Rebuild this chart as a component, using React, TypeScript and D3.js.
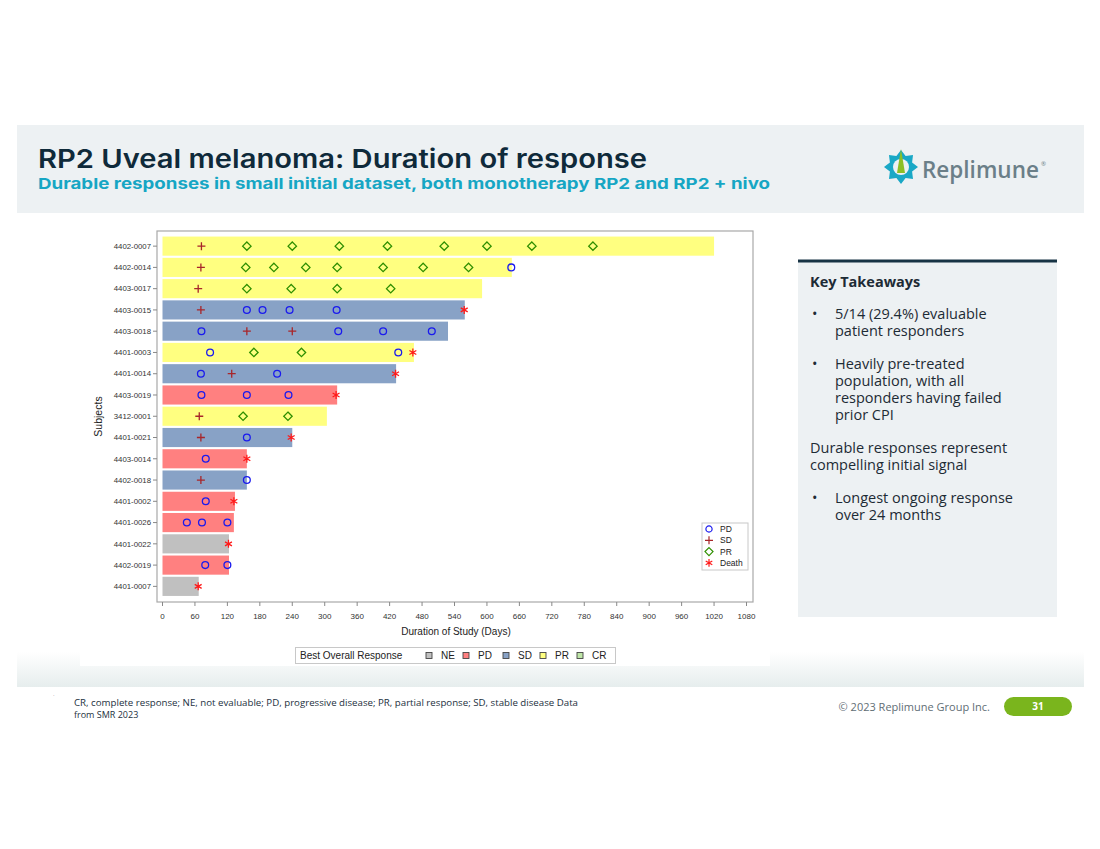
import { useEffect, useRef } from "react";
import * as d3 from "d3";

const subjects = [
  "4402-0007", "4402-0014", "4403-0017", "4403-0015", "4403-0018", "4401-0003",
  "4401-0014", "4403-0019", "3412-0001", "4401-0021", "4403-0014", "4402-0018",
  "4401-0002", "4401-0026", "4401-0022", "4402-0019", "4401-0007",
];
const durations = [1020, 646, 591, 559, 528, 465, 432, 323, 304, 240, 156, 156, 134, 132, 123, 123, 67];
const bestResponse = ["PR", "PR", "PR", "SD", "SD", "PR", "SD", "PD", "PR", "SD", "PD", "SD", "PD", "PD", "NE", "PD", "NE"];

// assessment days per subject
const pdDays = [
  [], [645], [], [156, 185, 235, 322], [72, 325, 408, 498], [88, 436], [71, 212], [72, 156, 233],
  [], [156], [80], [156], [80], [45, 73, 120], [], [79, 120], [],
];
const sdDays = [
  [72], [71], [66], [71], [156, 240], [], [128], [], [68], [71], [], [71], [], [], [], [], [],
];
const prDays = [
  [156, 240, 327, 416, 521, 600, 683, 796], [154, 206, 265, 323, 408, 482, 566], [156, 238, 323, 422],
  [], [], [169, 257], [], [], [149, 232], [], [], [], [], [], [], [], [],
];
const deathDays = [
  [], [], [], [558], [], [463], [431], [321], [], [238], [156], [], [132], [], [122], [], [66],
];

const responseKeys = ["NE", "PD", "SD", "PR", "CR"];
const responseColors = ["#c0c0c0", "#ff8080", "#88a2c6", "#ffff80", "#bfe6a8"];
const xTicks = d3.range(0, 1081, 60);

const takeaways = [
  { bullet: true, lines: ["5/14 (29.4%) evaluable", "patient responders"] },
  { bullet: true, lines: ["Heavily pre-treated", "population, with all", "responders having failed", "prior CPI"] },
  { bullet: false, lines: ["Durable responses represent", "compelling initial signal"] },
  { bullet: true, lines: ["Longest ongoing response", "over 24 months"] },
];

const PD_COLOR = "#1a1aee";
const SD_COLOR = "#a8262a";
const PR_COLOR = "#2f8f00";
const DEATH_COLOR = "#ff1a1a";
const CHART_FONT = "Liberation Sans, Arial, sans-serif";
const SLIDE_FONT = "Open Sans, sans-serif";

const starPath = (s: number) => {
  const a = s * Math.cos(Math.PI / 6);
  const b = s * Math.sin(Math.PI / 6);
  return `M0,${-s}L0,${s}M${-a},${-b}L${a},${b}M${-a},${b}L${a},${-b}`;
};

export default function App() {
  const ref = useRef<SVGSVGElement>(null);

  useEffect(() => {
    document.body.style.margin = "0";
    const svg = d3.select(ref.current);
    svg.html("");

    // slide background pieces
    svg.append("rect").attr("width", 1100).attr("height", 849).attr("fill", "#fff");
    svg.append("rect").attr("x", 17).attr("y", 125).attr("width", 1067).attr("height", 88).attr("fill", "#edf1f3");

    const defs = svg.append("defs");
    const grad = defs.append("linearGradient").attr("id", "band").attr("x1", 0).attr("y1", 0).attr("x2", 0).attr("y2", 1);
    grad.append("stop").attr("offset", "0%").attr("stop-color", "#ffffff");
    grad.append("stop").attr("offset", "100%").attr("stop-color", "#e6eded");
    svg.append("rect").attr("x", 17).attr("y", 652).attr("width", 1067).attr("height", 35).attr("fill", "url(#band)");
    svg.append("rect").attr("x", 80).attr("y", 225).attr("width", 690).attr("height", 441).attr("fill", "#fff");

    // title
    svg.append("text").attr("x", 38).attr("y", 168).attr("font-family", "Inter, sans-serif").attr("font-weight", 600)
      .attr("font-size", 26).attr("fill", "#0f2a3a").attr("textLength", 609).attr("lengthAdjust", "spacingAndGlyphs")
      .text("RP2 Uveal melanoma: Duration of response");
    svg.append("text").attr("x", 38).attr("y", 189).attr("font-family", "Inter, sans-serif").attr("font-weight", 700)
      .attr("font-size", 15).attr("fill", "#16a6c4").attr("textLength", 732).attr("lengthAdjust", "spacingAndGlyphs")
      .text("Durable responses in small initial dataset, both monotherapy RP2 and RP2 + nivo");

    // logo
    const logo = svg.append("g").attr("transform", "translate(901,167)");
    const gear = d3.range(16).map((i) => {
      const r = i % 2 === 0 ? 17 : 12;
      const ang = (i * Math.PI) / 8 - Math.PI / 2;
      return [r * Math.cos(ang), r * Math.sin(ang)] as [number, number];
    });
    logo.append("path").attr("d", d3.line()(gear) + "Z").attr("fill", "#19a8c6");
    logo.append("circle").attr("r", 8).attr("fill", "#edf1f3");
    logo.append("path").attr("d", "M0,-18L4,6L-4,6Z").attr("fill", "#8cbf26");
    const brand = svg.append("text").attr("x", 922).attr("y", 178).attr("font-family", SLIDE_FONT)
      .attr("font-weight", 600).attr("font-size", 22.5).attr("fill", "#6b7f88");
    brand.append("tspan").text("Replimune");
    brand.append("tspan").attr("font-size", 6).attr("font-weight", 400).attr("dx", 2).attr("dy", -12).text("®");

    // chart
    const x = d3.scaleLinear().domain([0, 1080]).range([162.5, 746.5]);
    const y = d3.scaleBand().domain(subjects).range([235.5, 597]).paddingInner(0.1).paddingOuter(0.05);
    const color = d3.scaleOrdinal<string, string>().domain(responseKeys).range(responseColors);
    const frame = { left: 157, right: 753, top: 231, bottom: 602 };

    svg.append("rect").attr("x", frame.left).attr("y", frame.top).attr("width", frame.right - frame.left)
      .attr("height", frame.bottom - frame.top).attr("fill", "none").attr("stroke", "#a8a8a8").attr("stroke-width", 1.2);

    const bars = svg.append("g");
    bars.selectAll("rect").data(subjects).join("rect")
      .attr("x", x(0))
      .attr("y", (d) => y(d)!)
      .attr("width", (_, i) => x(durations[i]) - x(0))
      .attr("height", y.bandwidth())
      .attr("fill", (_, i) => color(bestResponse[i]));

    // y axis
    const yAxis = svg.append("g").attr("font-family", CHART_FONT).attr("font-size", 7.8).attr("fill", "#333");
    subjects.forEach((s) => {
      const cy = y(s)! + y.bandwidth() / 2;
      yAxis.append("line").attr("x1", frame.left - 4).attr("x2", frame.left).attr("y1", cy).attr("y2", cy).attr("stroke", "#888");
      yAxis.append("text").attr("x", frame.left - 6).attr("y", cy).attr("dy", "0.35em").attr("text-anchor", "end").text(s);
    });
    svg.append("text").attr("transform", `translate(102,${(frame.top + frame.bottom) / 2}) rotate(-90)`)
      .attr("text-anchor", "middle").attr("font-family", CHART_FONT).attr("font-size", 10.5).attr("fill", "#222").text("Subjects");

    // x axis
    const xAxis = svg.append("g").attr("font-family", CHART_FONT).attr("font-size", 8).attr("fill", "#333");
    xTicks.forEach((t) => {
      xAxis.append("line").attr("x1", x(t)).attr("x2", x(t)).attr("y1", frame.bottom).attr("y2", frame.bottom + 4).attr("stroke", "#888");
      xAxis.append("text").attr("x", x(t)).attr("y", 619).attr("text-anchor", "middle").text(t);
    });
    svg.append("text").attr("x", 456).attr("y", 635).attr("text-anchor", "middle").attr("font-family", CHART_FONT)
      .attr("font-size", 10).attr("fill", "#222").text("Duration of Study (Days)");

    // markers
    const marks = svg.append("g").attr("fill", "none").attr("stroke-width", 1.3);
    subjects.forEach((s, i) => {
      const cy = y(s)! + y.bandwidth() / 2;
      pdDays[i].forEach((d) => marks.append("circle").attr("cx", x(d)).attr("cy", cy).attr("r", 3.4).attr("stroke", PD_COLOR));
      sdDays[i].forEach((d) => marks.append("path").attr("transform", `translate(${x(d)},${cy})`).attr("d", "M-4,0H4M0,-4V4").attr("stroke", SD_COLOR));
      prDays[i].forEach((d) => marks.append("path").attr("transform", `translate(${x(d)},${cy})`).attr("d", "M0,-4.2L4.2,0L0,4.2L-4.2,0Z").attr("stroke", PR_COLOR));
      deathDays[i].forEach((d) => marks.append("path").attr("transform", `translate(${x(d)},${cy})`).attr("d", starPath(4)).attr("stroke", DEATH_COLOR));
    });

    // inner legend
    const leg = svg.append("g").attr("font-family", CHART_FONT).attr("font-size", 8.5).attr("fill", "#222");
    leg.append("rect").attr("x", 702).attr("y", 523).attr("width", 46).attr("height", 47).attr("fill", "#fff").attr("stroke", "#c8c8c8");
    const legItems = [
      { label: "PD", draw: (g: any) => g.append("circle").attr("r", 3.1).attr("fill", "none").attr("stroke", PD_COLOR).attr("stroke-width", 1.2) },
      { label: "SD", draw: (g: any) => g.append("path").attr("d", "M-4,0H4M0,-4V4").attr("stroke", SD_COLOR).attr("stroke-width", 1.2) },
      { label: "PR", draw: (g: any) => g.append("path").attr("d", "M0,-4L4,0L0,4L-4,0Z").attr("fill", "none").attr("stroke", PR_COLOR).attr("stroke-width", 1.2) },
      { label: "Death", draw: (g: any) => g.append("path").attr("d", starPath(3.8)).attr("stroke", DEATH_COLOR).attr("stroke-width", 1.2) },
    ];
    legItems.forEach((it, i) => {
      const cy = 529 + i * 11.3;
      it.draw(leg.append("g").attr("transform", `translate(709,${cy})`));
      leg.append("text").attr("x", 720).attr("y", cy).attr("dy", "0.35em").text(it.label);
    });

    // bottom legend
    const bl = svg.append("g").attr("font-family", CHART_FONT).attr("font-size", 10).attr("fill", "#222");
    bl.append("rect").attr("x", 295.5).attr("y", 647.5).attr("width", 320).attr("height", 16).attr("fill", "#fff").attr("stroke", "#c8c8c8");
    bl.append("text").attr("x", 300).attr("y", 655.5).attr("dy", "0.35em").text("Best Overall Response");
    const legX = [429, 466, 506, 543, 580];
    responseKeys.forEach((k, i) => {
      bl.append("rect").attr("x", legX[i] - 3).attr("y", 652.5).attr("width", 6).attr("height", 6)
        .attr("fill", color(k)).attr("stroke", "#444").attr("stroke-width", 0.9);
      bl.append("text").attr("x", legX[i] + 12).attr("y", 655.5).attr("dy", "0.35em").text(k);
    });

    // key takeaways panel
    svg.append("rect").attr("x", 798).attr("y", 261).attr("width", 259).attr("height", 356).attr("fill", "#edf1f3");
    svg.append("rect").attr("x", 798).attr("y", 259.5).attr("width", 259).attr("height", 3).attr("fill", "#173344");
    const kt = svg.append("g").attr("font-family", SLIDE_FONT).attr("font-size", 14.5).attr("fill", "#1d2b35");
    kt.append("text").attr("x", 810).attr("y", 287).attr("font-weight", 700).attr("font-size", 14.5).text("Key Takeaways");
    let ly = 319;
    takeaways.forEach((t) => {
      t.lines.forEach((line, j) => {
        if (t.bullet && j === 0) kt.append("text").attr("x", 812).attr("y", ly).text("•");
        kt.append("text").attr("x", t.bullet ? 835 : 810).attr("y", ly).text(line);
        ly += 17;
      });
      ly += 16;
    });

    // footer
    svg.append("text").attr("x", 53).attr("y", 697).attr("font-size", 5).attr("fill", "#555").text("·");
    const ft = svg.append("g").attr("font-family", SLIDE_FONT).attr("font-size", 9).attr("fill", "#1c3040");
    ft.append("text").attr("x", 74).attr("y", 706).attr("textLength", 504).attr("lengthAdjust", "spacingAndGlyphs")
      .text("CR, complete response; NE, not evaluable; PD, progressive disease; PR, partial response; SD, stable disease  Data");
    ft.append("text").attr("x", 74).attr("y", 718).text("from SMR 2023");
    svg.append("text").attr("x", 990).attr("y", 711).attr("text-anchor", "end").attr("font-family", SLIDE_FONT)
      .attr("font-size", 11).attr("fill", "#5f6e75").text("© 2023 Replimune Group Inc.");
    svg.append("rect").attr("x", 1004).attr("y", 697).attr("width", 68).attr("height", 19).attr("rx", 9.5).attr("fill", "#7ab51d");
    svg.append("text").attr("x", 1038).attr("y", 706.5).attr("dy", "0.35em").attr("text-anchor", "middle")
      .attr("font-family", SLIDE_FONT).attr("font-weight", 700).attr("font-size", 10).attr("fill", "#fff").text("31");
  }, []);

  return <svg ref={ref} width={1100} height={849} style={{ display: "block" }} />;
}
